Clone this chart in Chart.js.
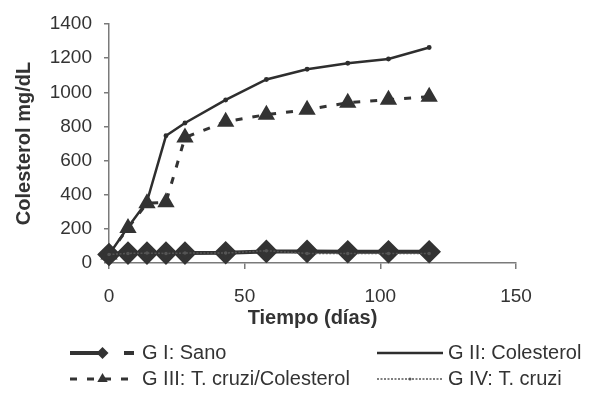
<!DOCTYPE html>
<html>
<head>
<meta charset="utf-8">
<script src="https://cdn.jsdelivr.net/npm/chart.js@4.4.1/dist/chart.umd.min.js"></script>
<style>
  html, body { margin: 0; padding: 0; background: #fff; }
  #wrap { width: 592px; height: 396px; }
</style>
</head>
<body>
<div id="wrap"><canvas id="chart"></canvas></div>
<script>
// days of sampling and cholesterol (mg/dL) per group
const days = [0, 7, 14, 21, 28, 43, 58, 73, 88, 103, 118];
const sano = [50, 58, 58, 58, 58, 60, 68, 68, 66, 66, 66];
const colesterol = [50, 210, 360, 745, 820, 955, 1075, 1135, 1170, 1195, 1262];
const cruziColesterol = [50, 205, 350, 356, 735, 828, 869, 898, 939, 957, 974];
const cruzi = [50, 56, 58, 56, 58, 58, 72, 56, 55, 55, 55];

const seriesNames = ["G I: Sano", "G II: Colesterol", "G III: T. cruzi/Colesterol", "G IV: T. cruzi"];
const xTicks = [0, 50, 100, 150];
const yTicks = [0, 200, 400, 600, 800, 1000, 1200, 1400];

const FONT = "'Liberation Sans', Arial, sans-serif";
const INK = "#333";
const AXIS = "#7a7a7a";

const toPoints = (vals) => vals.map((v, i) => ({ x: days[i], y: v }));

// legend drawn under the plot in two columns, like the original
const legendPlugin = {
  id: "gridLegend",
  afterDraw(chart) {
    const ctx = chart.ctx;
    const cols = [{ x0: 70, x1: 135, text: 142 }, { x0: 377, x1: 443, text: 448 }];
    const rows = [353, 379];
    chart.data.datasets.forEach((ds, i) => {
      const c = cols[i % 2];
      const y = rows[Math.floor(i / 2)];
      const mid = (c.x0 + c.x1) / 2;
      ctx.save();
      ctx.strokeStyle = ds.borderColor;
      ctx.lineWidth = ds.borderWidth;
      ctx.setLineDash(ds.legendDash || ds.borderDash || []);
      ctx.beginPath();
      ctx.moveTo(c.x0, y);
      ctx.lineTo(c.x1, y);
      ctx.stroke();
      ctx.setLineDash([]);
      ctx.fillStyle = ds.pointBackgroundColor;
      const r = ds.legendRadius;
      if (r) {
        ctx.beginPath();
        if (ds.pointStyle === "rectRot") {
          ctx.moveTo(mid - r, y);
          ctx.lineTo(mid, y - r);
          ctx.lineTo(mid + r, y);
          ctx.lineTo(mid, y + r);
        } else if (ds.pointStyle === "triangle") {
          ctx.moveTo(mid, y - r);
          ctx.lineTo(mid + r * 0.866, y + r / 2);
          ctx.lineTo(mid - r * 0.866, y + r / 2);
        } else {
          ctx.arc(mid, y, r, 0, Math.PI * 2);
        }
        ctx.closePath();
        ctx.fill();
      }
      ctx.fillStyle = INK;
      ctx.font = "20px " + FONT;
      ctx.textAlign = "left";
      ctx.textBaseline = "middle";
      ctx.fillText(ds.label, c.text, y);
      ctx.restore();
    });
  }
};

new Chart(document.getElementById("chart"), {
  type: "line",
  data: {
    datasets: [
      {
        label: seriesNames[0],
        data: toPoints(sano),
        borderColor: "#333",
        backgroundColor: "#333",
        pointBackgroundColor: "#333",
        pointBorderColor: "#333",
        borderWidth: 4,
        pointStyle: "rectRot",
        pointRadius: 9,
        legendRadius: 6,
        legendDash: [33, 21, 10],
        order: 3,
        clip: false
      },
      {
        label: seriesNames[1],
        data: toPoints(colesterol),
        borderColor: "#2e2e2e",
        backgroundColor: "#2e2e2e",
        pointBackgroundColor: "#2e2e2e",
        pointBorderColor: "#2e2e2e",
        borderWidth: 2.5,
        pointStyle: "circle",
        pointRadius: 1.2,
        legendRadius: 0,
        order: 2,
        clip: false
      },
      {
        label: seriesNames[2],
        data: toPoints(cruziColesterol),
        borderColor: "#333",
        backgroundColor: "#333",
        pointBackgroundColor: "#333",
        pointBorderColor: "#333",
        borderWidth: 3,
        borderDash: [7, 10],
        pointStyle: "triangle",
        pointRadius: 7,
        legendRadius: 6,
        order: 1,
        clip: false
      },
      {
        label: seriesNames[3],
        data: toPoints(cruzi),
        borderColor: "#555",
        backgroundColor: "#555",
        pointBackgroundColor: "#555",
        pointBorderColor: "#555",
        borderWidth: 1.5,
        borderDash: [2, 1.5],
        pointStyle: "circle",
        pointRadius: 1,
        legendRadius: 1.5,
        order: 0,
        clip: false
      }
    ]
  },
  options: {
    responsive: true,
    maintainAspectRatio: false,
    animation: false,
    layout: { padding: { left: 0, right: 76, top: 24, bottom: 65 } },
    plugins: {
      legend: { display: false },
      tooltip: { enabled: false }
    },
    scales: {
      x: {
        type: "linear",
        min: 0,
        max: 150,
        afterBuildTicks: (s) => { s.ticks = xTicks.map((v) => ({ value: v })); },
        afterFit: (s) => { s.height = 68; },
        border: { display: true, color: AXIS, width: 1.5 },
        grid: { drawOnChartArea: false, drawTicks: true, tickLength: 6, color: AXIS, lineWidth: 1.5 },
        ticks: { color: INK, padding: 16, font: { family: FONT, size: 19 }, maxRotation: 0, callback: (v) => String(v) },
        title: {
          display: true,
          text: "Tiempo (días)",
          color: INK,
          font: { family: FONT, size: 20, weight: "bold" },
          padding: { top: 0, bottom: 1 }
        }
      },
      y: {
        min: 0,
        max: 1400,
        afterBuildTicks: (s) => { s.ticks = yTicks.map((v) => ({ value: v })); },
        afterFit: (s) => { s.width = 109; },
        border: { display: true, color: AXIS, width: 1.5 },
        grid: { drawOnChartArea: false, drawTicks: true, tickLength: 5, color: AXIS, lineWidth: 1.5 },
        ticks: { color: INK, padding: 12, font: { family: FONT, size: 19 }, callback: (v) => String(v) },
        title: {
          display: true,
          text: "Colesterol mg/dL",
          color: INK,
          font: { family: FONT, size: 20, weight: "bold" },
          padding: { top: 12, bottom: 0 }
        }
      }
    }
  },
  plugins: [legendPlugin]
});
</script>
</body>
</html>
